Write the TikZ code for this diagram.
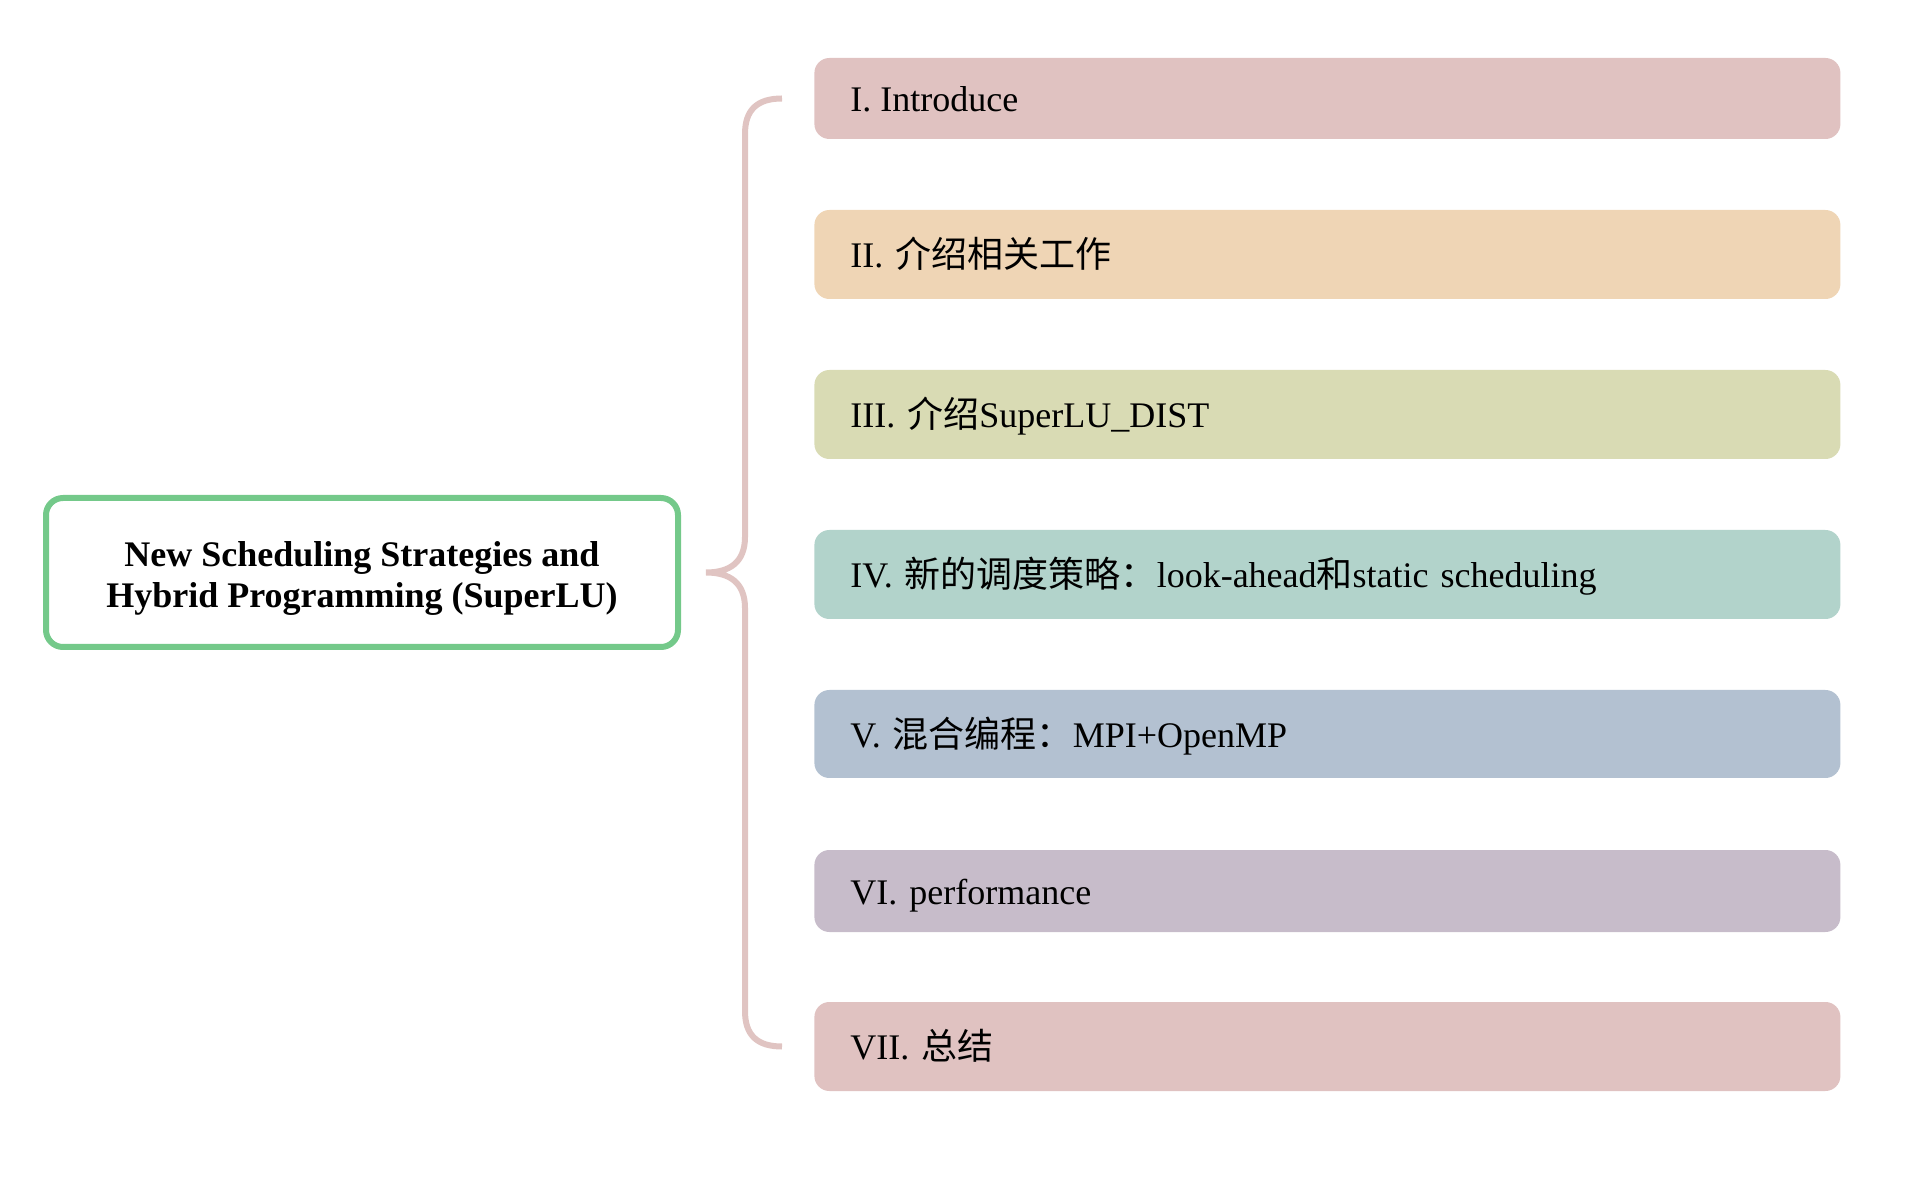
\documentclass[tikz,border=0pt]{standalone}
\usepackage{fontspec}
\setmainfont{Liberation Serif}
\newfontfamily\cjk{Noto Sans CJK SC}
\usetikzlibrary{calc}
\frenchspacing
\definecolor{cpink}{HTML}{E0C2C1}
\definecolor{corange}{HTML}{EFD5B5}
\definecolor{colive}{HTML}{D9DBB4}
\definecolor{cteal}{HTML}{B2D3CB}
\definecolor{cblue}{HTML}{B3C1D1}
\definecolor{cviolet}{HTML}{C7BCCA}
\definecolor{cgreen}{HTML}{74C98A}
\definecolor{cbrace}{HTML}{E0C4C2}
\begin{document}
\begin{tikzpicture}[x=0.5pt,y=-0.5pt,
  rootbox/.style={draw=cgreen, line width=3pt, fill=white, rounded corners=8.5pt,
    minimum width=316pt, minimum height=74.5pt, align=center, inner sep=0pt,
    font=\bfseries\fontsize{18pt}{20.75pt}\selectfont, text=black},
  itembox/.style={rounded corners=7.5pt, inner xsep=18pt, inner ysep=0pt,
    text width=477pt, align=left, anchor=west, text height=14.8pt, text depth=1.5pt,
    font=\fontsize{18pt}{21pt}\selectfont, text=black},
  bracket/.style={draw=cbrace, line width=3pt}
]
\useasboundingbox (0,0) rectangle (1906,1186);

\node[rootbox] (root) at (362,572.5) {\raisebox{-3pt}[\height][\depth]{\begin{tabular}{@{}c@{}}New Scheduling Strategies and\\Hybrid Programming (SuperLU)\end{tabular}}};

\node[itembox, fill=cpink,   minimum height=40.5pt] (b1) at (814,98.5)  {I.\hspace{-1.5pt} Introduce};
\node[itembox, fill=corange, minimum height=44.5pt] (b2) at (814,254.5) {II. {\cjk 介绍相关工作}};
\node[itembox, fill=colive,  minimum height=44.5pt] (b3) at (814,414.5) {III. {\cjk 介绍}SuperLU\_DIST};
\node[itembox, fill=cteal,   minimum height=44.5pt] (b4) at (814,574.5) {IV. {\cjk 新的调度策略：}look-ahead{\cjk 和}static scheduling};
\node[itembox, fill=cblue,   minimum height=44pt]   (b5) at (814,734)   {V. {\cjk 混合编程：}MPI+OpenMP};
\node[itembox, fill=cviolet, minimum height=41pt]   (b6) at (814,891)   {VI. performance};
\node[itembox, fill=cpink,   minimum height=44.5pt] (b7) at (814,1046.5){VII. {\cjk 总结}};

\coordinate (bt) at ($(b1.west)+(-32,0)$);
\coordinate (bb) at ($(b7.west)+(-32,0)$);
\coordinate (tip) at ($(root.east)+(25,0)$);

\draw[bracket] (bt) .. controls (757,98.5) and (745,110) .. (745,134)
  -- (745,537) .. controls (745,562) and (730,572.5) .. (tip)
  .. controls (730,572.5) and (745,583) .. (745,608)
  -- (745,1011) .. controls (745,1035) and (757,1046.5) .. (bb);
\end{tikzpicture}
\end{document}
